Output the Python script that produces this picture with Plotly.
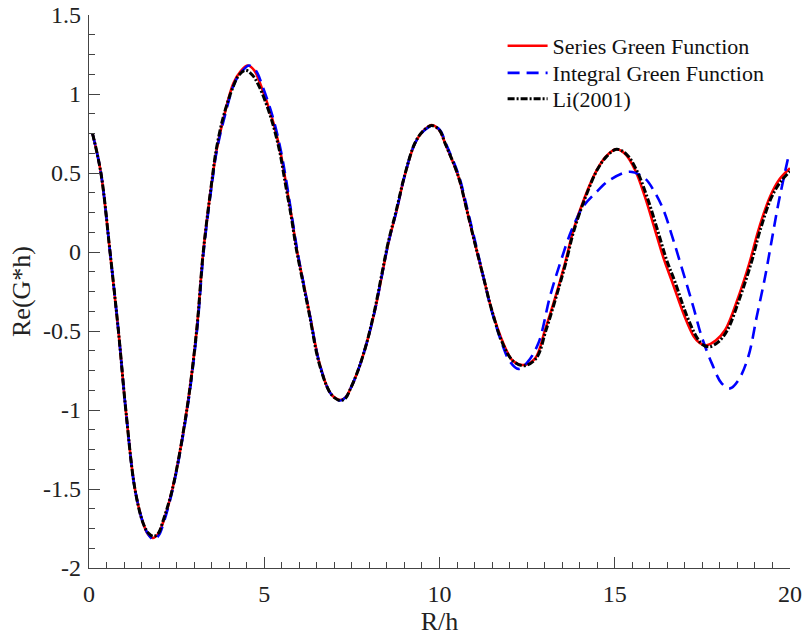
import plotly.graph_objects as go

# ---- data ----
series_x = [0.1, 0.34, 0.6, 0.84, 1.05, 1.31, 1.55, 1.68, 1.82, 1.97, 2.1, 2.38, 2.79, 3.07, 3.26, 3.50, 3.64,
            3.85, 4.12, 4.33, 4.53, 4.73, 4.88, 5.21, 5.45, 5.62, 5.78, 5.93, 6.12, 6.31, 6.57, 6.85, 7.0,
            7.16, 7.32, 7.45, 7.68, 7.92, 8.16, 8.35, 8.54, 8.78, 9.0, 9.30, 9.55, 9.78, 10.0, 10.16, 10.54,
            10.78, 11.01, 11.25, 11.49, 11.82, 12.1, 12.39, 12.73, 13.01, 13.31, 13.58, 13.82, 14.15, 14.49,
            14.75, 15.03, 15.3, 15.58, 15.86, 16.15, 16.41, 16.64, 16.98, 17.26, 17.42, 17.62, 17.88, 18.15,
            18.53, 18.84, 19.1, 19.43, 19.7, 20.0]
series_y = [0.75, 0.50, 0.0, -0.5, -1.0, -1.5, -1.72, -1.785, -1.81, -1.785, -1.72, -1.5, -1.0, -0.5, 0.0, 0.435, 0.646,
            0.857, 1.068, 1.145, 1.18, 1.145, 1.068, 0.857, 0.646, 0.435, 0.224, 0.013, -0.198, -0.41, -0.70, -0.88, -0.92,
            -0.937, -0.92, -0.87, -0.747, -0.578, -0.367, -0.156, 0.055, 0.266, 0.477, 0.688, 0.77, 0.804, 0.77, 0.688, 0.477,
            0.266, 0.055, -0.156, -0.367, -0.578, -0.69, -0.715, -0.673, -0.494, -0.283, -0.072, 0.139, 0.35, 0.519,
            0.605, 0.65, 0.62, 0.519, 0.35, 0.139, -0.05, -0.19, -0.40, -0.536, -0.575, -0.59, -0.56, -0.494,
            -0.283, -0.072, 0.139, 0.35, 0.46, 0.53]

integral_x = [0.1, 0.34, 0.6, 0.84, 1.05, 1.31, 1.55, 1.70, 1.85, 2.0, 2.12, 2.39, 2.80, 3.08, 3.27, 3.51, 3.65,
              3.87, 4.15, 4.37, 4.57, 4.77, 4.92, 5.24, 5.47, 5.64, 5.79, 5.94, 6.12, 6.31, 6.57, 6.85, 7.0,
              7.16, 7.32, 7.45, 7.68, 7.92, 8.16, 8.35, 8.54, 8.78, 9.0, 9.30, 9.57, 9.80, 10.02, 10.18, 10.56,
              10.80, 11.03, 11.25, 11.48, 11.78, 12.0, 12.25, 12.50, 12.82, 13.15, 13.44, 13.77, 14.10, 14.44,
              14.86, 15.43, 15.86, 16.13, 16.39, 16.67, 16.96, 17.24, 17.48, 17.77, 18.05, 18.29, 18.53, 18.81,
              19.05, 19.29, 19.48, 19.67, 19.95]
integral_y = [0.75, 0.50, 0.0, -0.5, -1.0, -1.5, -1.72, -1.79, -1.82, -1.79, -1.72, -1.5, -1.0, -0.5, 0.0, 0.435, 0.646,
              0.857, 1.068, 1.145, 1.18, 1.145, 1.068, 0.857, 0.646, 0.435, 0.224, 0.013, -0.198, -0.41, -0.70, -0.88, -0.92,
              -0.94, -0.92, -0.87, -0.747, -0.578, -0.367, -0.156, 0.055, 0.266, 0.477, 0.688, 0.77, 0.80, 0.77, 0.688, 0.477,
              0.266, 0.055, -0.156, -0.367, -0.578, -0.69, -0.74, -0.70, -0.578, -0.283, -0.072, 0.139, 0.287, 0.371,
              0.456, 0.508, 0.466, 0.382, 0.266, 0.076, -0.135, -0.346, -0.536, -0.705, -0.831, -0.863, -0.81, -0.663,
              -0.41, -0.156, 0.076, 0.308, 0.60]

li_x = [0.1, 0.34, 0.6, 0.84, 1.05, 1.31, 1.55, 1.70, 1.84, 1.98, 2.1, 2.38, 2.79, 3.07, 3.26, 3.50, 3.64,
        3.85, 4.12, 4.28, 4.47, 4.66, 4.85, 5.18, 5.43, 5.60, 5.77, 5.92, 6.11, 6.30, 6.56, 6.85, 7.02,
        7.18, 7.32, 7.45, 7.68, 7.92, 8.15, 8.34, 8.53, 8.77, 9.0, 9.30, 9.55, 9.78, 10.0, 10.16, 10.54,
        10.78, 11.01, 11.25, 11.49, 11.80, 12.1, 12.42, 12.76, 13.04, 13.33, 13.60, 13.84, 14.17, 14.50,
        14.77, 15.05, 15.33, 15.62, 15.92, 16.22, 16.48, 16.72, 17.05, 17.34, 17.50, 17.70, 17.95, 18.2,
        18.58, 18.89, 19.15, 19.48, 19.75, 20.0]
li_y = [0.75, 0.50, 0.0, -0.5, -1.0, -1.5, -1.72, -1.78, -1.80, -1.78, -1.71, -1.5, -1.0, -0.5, 0.0, 0.44, 0.66,
        0.87, 1.05, 1.12, 1.15, 1.12, 1.05, 0.857, 0.646, 0.435, 0.224, 0.013, -0.198, -0.41, -0.70, -0.88, -0.925,
        -0.94, -0.925, -0.87, -0.747, -0.578, -0.367, -0.156, 0.055, 0.266, 0.48, 0.69, 0.77, 0.80, 0.77, 0.688, 0.477,
        0.266, 0.055, -0.156, -0.367, -0.578, -0.69, -0.72, -0.673, -0.494, -0.283, -0.072, 0.139, 0.35, 0.52,
        0.605, 0.65, 0.62, 0.519, 0.35, 0.139, -0.05, -0.19, -0.40, -0.54, -0.585, -0.60, -0.57, -0.50,
        -0.283, -0.072, 0.139, 0.35, 0.45, 0.51]

x_tickvals = [0, 5, 10, 15, 20]
x_ticktext = ["0", "5", "10", "15", "20"]
y_tickvals = [-2, -1.5, -1, -0.5, 0, 0.5, 1, 1.5]
y_ticktext = ["-2", "-1.5", "-1", "-0.5", "0", "0.5", "1", "1.5"]

FONT = "Liberation Serif, Times New Roman, serif"

fig = go.Figure()
fig.add_trace(go.Scatter(x=series_x, y=series_y, mode="lines", name="Series Green Function",
                         legend="legend", showlegend=True,
                         line=dict(color="#ff0000", width=2.6, shape="spline", smoothing=1.0)))
fig.add_trace(go.Scatter(x=integral_x, y=integral_y, mode="lines", name="Integral Green Function",
                         legend="legend2", showlegend=True,
                         line=dict(color="#0000ff", width=2.6, dash="12px,7px", shape="spline", smoothing=1.0)))
fig.add_trace(go.Scatter(x=li_x, y=li_y, mode="lines", name="Li(2001)",
                         legend="legend3", showlegend=True,
                         line=dict(color="#000000", width=3, dash="7px,2px,2px,2px", shape="spline", smoothing=1.0)))

axis_common = dict(
    showgrid=False, zeroline=False, showline=True, linecolor="#444444", linewidth=1.2,
    ticks="inside", ticklen=11, tickwidth=1.2, tickcolor="#444444",
    tickfont=dict(family=FONT, size=24, color="#222222"),
    mirror=False, automargin=False, ticklabeloverflow="allow",
)

fig.update_xaxes(**axis_common, range=[0, 20], tickmode="array", tickvals=x_tickvals, ticktext=x_ticktext,
                 ticklabelstandoff=4,
                 minor=dict(tickmode="linear", tick0=0, dtick=0.5, ticklen=6, tickwidth=1.2,
                            tickcolor="#444444", ticks="inside"),
                 title=dict(text="R/h", font=dict(family=FONT, size=26, color="#222222"), standoff=2))
fig.update_yaxes(**axis_common, range=[-2, 1.5], tickmode="array", tickvals=y_tickvals, ticktext=y_ticktext,
                 ticklabelstandoff=2,
                 minor=dict(tickmode="linear", tick0=0, dtick=0.125, ticklen=6, tickwidth=1.2,
                            tickcolor="#444444", ticks="inside"),
                 title=dict(text="Re(G*h)", font=dict(family=FONT, size=26, color="#222222"), standoff=4))

leg_common = dict(x=0.59, xanchor="left", yanchor="middle", visible=True,
                  font=dict(family=FONT, size=22, color="#111111"),
                  bgcolor="rgba(0,0,0,0)", itemwidth=40)

fig.update_layout(
    width=805, height=642,
    margin=dict(l=89, r=15, t=15, b=74),
    plot_bgcolor="white", paper_bgcolor="white",
    showlegend=True,
    legend=dict(**leg_common, y=0.944),
    legend2=dict(**leg_common, y=0.895),
    legend3=dict(**leg_common, y=0.848),
)

fig.write_html("out.html", config={"displayModeBar": False},
               post_script="document.body.style.margin='0';document.body.style.overflow='hidden';")
